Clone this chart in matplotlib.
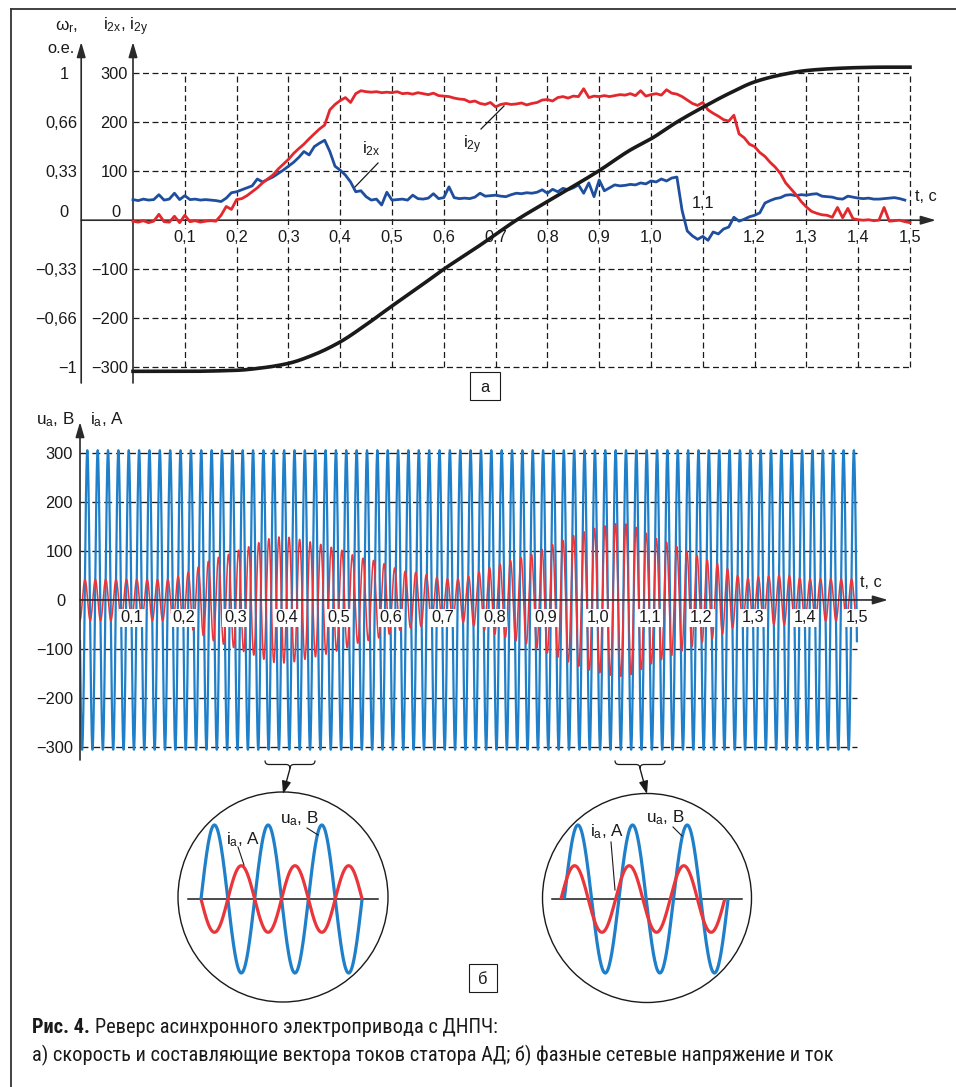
import numpy as np
import matplotlib
matplotlib.use("Agg")
import matplotlib.pyplot as plt
from matplotlib.patches import Circle, Rectangle, PathPatch
from matplotlib.path import Path
from matplotlib import font_manager

# ======================= DATA =======================
# (a) stator current vector components, sampled every 0.01 s from t = 0
t_step = 0.01
i2x = [42, 40, 43, 41, 42, 52, 41, 43, 55, 42,
       50, 42, 43, 41, 42, 41, 40, 38, 45, 56,
       58, 62, 66, 70, 84, 78, 83, 88, 95, 102,
       110, 118, 128, 140, 133, 150, 157, 163, 140, 110,
       102, 92, 78, 58, 60, 48, 41, 43, 31, 57,
       41, 42, 43, 41, 51, 44, 43, 45, 54, 44,
       46, 68, 46, 44, 45, 44, 47, 55, 49, 50,
       51, 49, 48, 52, 55, 54, 56, 55, 57, 62,
       55, 63, 58, 65, 62, 66, 72, 55, 76, 48,
       82, 60, 66, 72, 70, 71, 73, 72, 76, 74,
       80, 78, 84, 80, 86, 88, 20, -22, -32, -39,
       -33, -41, -24, -28, -18, -14, 6, -2, 2, 7,
       10, 15, 35, 40, 44, 46, 51, 52, 50, 52,
       51, 53, 54, 49, 48, 47, 44, 43, 49, 47,
       45, 44, 45, 43, 43, 44, 45, 46, 44, 41]
i2y = [-2, -4, -1, -5, -2, 12, -3, -4, 8, -5,
       10, -3, -1, -4, -2, -1, -2, 10, 28, 22,
       42, 44, 50, 58, 66, 76, 84, 92, 104, 114,
       124, 136, 146, 155, 166, 176, 186, 194, 225, 236,
       244, 250, 240, 258, 264, 262, 261, 262, 260, 261,
       260, 262, 258, 259, 257, 260, 258, 256, 259, 254,
       253, 252, 249, 247, 246, 241, 243, 238, 236, 240,
       231, 236, 238, 236, 237, 239, 235, 238, 240, 245,
       246, 243, 250, 252, 249, 253, 252, 268, 250, 253,
       252, 254, 252, 254, 256, 255, 258, 254, 264, 253,
       256, 258, 255, 266, 259, 257, 252, 245, 238, 234,
       240, 225, 218, 212, 205, 202, 214, 176, 168, 155,
       150, 138, 130, 118, 108, 95, 76, 64, 52, 38,
       27, 18, 14, 11, 10, 6, 26, 5, 24, 3,
       1, 0, 1, -1, 0, 26, -2, -1, 0, -3, -5]
# rotor speed, o.e.
t_omega = [0.0, 0.1, 0.2, 0.25, 0.3, 0.35, 0.4, 0.45, 0.5, 0.55, 0.6, 0.67, 0.74,
           0.8, 0.9, 0.96, 1.0, 1.05, 1.1, 1.15, 1.2, 1.25, 1.3, 1.35, 1.4, 1.45, 1.5]
omega = [-1.027, -1.027, -1.02, -1.003, -0.973, -0.913, -0.827, -0.71, -0.583,
         -0.46, -0.333, -0.17, 0.0, 0.127, 0.337, 0.477, 0.553, 0.667, 0.767,
         0.86, 0.94, 0.987, 1.017, 1.03, 1.037, 1.04, 1.04]

i_ticks = [-300, -200, -100, 0, 100, 200, 300]
i_tick_labels = ['−300', '−200', '−100', '0', '100', '200', '300']
w_tick_labels = ['−1', '−0,66', '−0,33', '0', '0,33', '0,66', '1']
t_ticks = [0.1, 0.2, 0.3, 0.4, 0.5, 0.6, 0.7, 0.8, 0.9, 1.0, 1.1, 1.2, 1.3, 1.4, 1.5]
t_tick_labels = ['0,1', '0,2', '0,3', '0,4', '0,5', '0,6', '0,7', '0,8', '0,9',
                 '1,0', '1,1', '1,2', '1,3', '1,4', '1,5']

# (b) phase voltage and current
f_net = 50.0            # Hz
u_amp = 305.0           # V
u_phase_deg = -164.0
cycle_amp_i = [42, 42, 42, 42, 42, 42, 42, 42, 42, 48,
               57, 68, 80, 88, 94, 103, 110, 119, 127, 129,
               127, 122, 117, 112, 106, 100, 90, 84, 80, 73,
               64, 58, 56, 51, 46, 43, 43, 48, 57, 66,
               73, 80, 86, 92, 102, 112, 120, 130, 138, 145,
               150, 155, 156, 150, 138, 126, 119, 110, 100, 91,
               82, 75, 64, 50, 44, 47, 49, 51, 50, 45,
               43, 43, 43, 43, 43]
i_phase_t = [0.0, 0.18, 0.40, 0.72, 1.05, 1.28, 1.50]
i_phase_lead_deg = [80, 80, 190, 80, 0, 80, 80]
# magnified insets (relative units)
inset_u_amp = 1.0
inset_i_amp = 0.45
inset_i_phase_deg = [180.0, 22.0]

caption_1b = 'Рис. 4.'
caption_1 = 'Реверс асинхронного электропривода с ДНПЧ:'
caption_2 = 'а) скорость и составляющие вектора токов статора АД; б) фазные сетевые напряжение и ток'

# ======================= STYLE =======================
plt.rcParams['font.family'] = ['Liberation Sans', 'DejaVu Sans']
plt.rcParams['mathtext.fontset'] = 'custom'
plt.rcParams['mathtext.rm'] = 'Liberation Sans'
plt.rcParams['mathtext.it'] = 'Liberation Sans'
plt.rcParams['mathtext.bf'] = 'Liberation Sans:bold'

RED = '#e3282d'
BLUE_D = '#1f4e9e'
BLUE_L = '#1f80c9'
RED_L = '#ea363b'
BLK = '#1a1a1a'
AXC = '#2a2a2a'
FS = 11.8

# pick a narrow font for the caption if one is installed
_avail = {f.name for f in font_manager.fontManager.ttflist}
_narrow = [n for n in ['Roboto Condensed', 'Liberation Sans Narrow', 'DejaVu Sans Condensed',
                       'Open Sans Condensed', 'Noto Sans Display', 'Roboto'] if n in _avail]
CAPF = (_narrow[:1] or ['Liberation Sans']) + ['DejaVu Sans']

W, H = 956, 1087
fig = plt.figure(figsize=(W / 100, H / 100), dpi=100)


def rect(x0, y0, x1, y1):
    return [x0 / W, 1 - y1 / H, (x1 - x0) / W, (y1 - y0) / H]


def pchip(x, y, xn):
    x = np.asarray(x, float)
    y = np.asarray(y, float)
    h = np.diff(x)
    d = np.diff(y) / h
    m = np.zeros_like(y)
    for k in range(1, len(x) - 1):
        if d[k - 1] * d[k] > 0:
            w1 = 2 * h[k] + h[k - 1]
            w2 = h[k] + 2 * h[k - 1]
            m[k] = (w1 + w2) / (w1 / d[k - 1] + w2 / d[k])
    m[0] = d[0]
    m[-1] = d[-1]
    idx = np.clip(np.searchsorted(x, xn) - 1, 0, len(h) - 1)
    s = (xn - x[idx]) / h[idx]
    h00 = 2 * s**3 - 3 * s**2 + 1
    h10 = s**3 - 2 * s**2 + s
    h01 = -2 * s**3 + 3 * s**2
    h11 = s**3 - s**2
    return h00 * y[idx] + h10 * h[idx] * m[idx] + h01 * y[idx + 1] + h11 * h[idx] * m[idx + 1]


arrow_kw = dict(arrowstyle='-|>,head_length=0.75,head_width=0.22', color=AXC, lw=1.2,
                shrinkA=0, shrinkB=0, mutation_scale=12)
dash_top = (0, (4.8, 2.8))
dash_bot = (0, (6.0, 3.0))

# ======================= (a) =======================
ax = fig.add_axes(rect(81.2, 42, 935.9, 383))
ax.set_xlim(-0.1, 1.55)
ax.set_ylim(-331.9, 363.3)
ax.axis('off')

for v in i_ticks:
    if v != 0:
        ax.plot([0, t_ticks[-1]], [v, v], color=BLK, lw=0.9, ls=dash_top, zorder=1)
for tt in t_ticks:
    ax.plot([tt, tt], [i_ticks[0], i_ticks[-1]], color=BLK, lw=0.9, ls=dash_top, zorder=1)

ax.annotate('', xy=(0, 1), xytext=(0, 0), xycoords=ax.get_xaxis_transform(),
            arrowprops=arrow_kw, annotation_clip=False)
ax.annotate('', xy=(-0.1, 1), xytext=(-0.1, 0), xycoords=ax.get_xaxis_transform(),
            arrowprops=arrow_kw, annotation_clip=False)
ax.annotate('', xy=(1.55, 0), xytext=(-0.1, 0), xycoords='data',
            arrowprops=arrow_kw, annotation_clip=False)

t_x = np.arange(len(i2x)) * t_step
t_y = np.arange(len(i2y)) * t_step
ax.plot(t_x, i2x, color=BLUE_D, lw=2.0, zorder=3, solid_joinstyle='round')
ax.plot(t_y, i2y, color=RED, lw=2.0, zorder=4, solid_joinstyle='round')

axw = ax.twinx()
axw.set_xlim(ax.get_xlim())
axw.set_ylim(ax.get_ylim()[0] / 300.0, ax.get_ylim()[1] / 300.0)
axw.axis('off')
tw = np.linspace(t_omega[0], t_omega[-1], 600)
axw.plot(tw, pchip(t_omega, omega, tw), color=BLK, lw=2.6, zorder=5)

for v, lab, wl in zip(i_ticks, i_tick_labels, w_tick_labels):
    if v == 0:
        ax.annotate(lab, (0, v), xytext=(-17, 3), textcoords='offset pixels',
                    ha='center', va='baseline', fontsize=FS, color=BLK)
        ax.annotate(wl, (-0.1, v), xytext=(-17.5, 3), textcoords='offset pixels',
                    ha='center', va='baseline', fontsize=FS, color=BLK)
    else:
        ax.annotate(lab, (0, v), xytext=(-5, -6), textcoords='offset pixels',
                    ha='right', va='baseline', fontsize=FS, color=BLK)
        if wl == '1':
            ax.annotate(wl, (-0.1, v), xytext=(-17, -6), textcoords='offset pixels',
                        ha='center', va='baseline', fontsize=FS, color=BLK)
        else:
            ax.annotate(wl, (-0.1, v), xytext=(-4, -6), textcoords='offset pixels',
                        ha='right', va='baseline', fontsize=FS, color=BLK)

for tt, lab in zip(t_ticks, t_tick_labels):
    dy = 12 if lab == '1,1' else -22
    ax.annotate(lab, (tt, 0), xytext=(0, dy), textcoords='offset pixels',
                ha='center', va='baseline', fontsize=FS, color=BLK, zorder=6,
                bbox=dict(fc='white', ec='none', pad=1.0))

ax.annotate('t, c', (1.5, 0), xytext=(5, 19), textcoords='offset pixels',
            ha='left', va='baseline', fontsize=FS, color=BLK)

# ======================= (b) =======================
bx = fig.add_axes(rect(80, 422, 888, 760))
bx.set_xlim(0, 1.56)
bx.set_ylim(-326.0, 362.5)
bx.axis('off')

for v in i_ticks:
    if v != 0:
        bx.plot([0, t_ticks[-1]], [v, v], color=BLK, lw=0.95, ls=dash_bot, zorder=1)

tf = np.linspace(0, t_ticks[-1], 15001)
u = u_amp * np.sin(2 * np.pi * f_net * tf + np.deg2rad(u_phase_deg))
bx.plot(tf, u, color=BLUE_L, lw=1.6, zorder=2)

cyc_t = (np.arange(len(cycle_amp_i)) + 0.5) / f_net
env = np.interp(tf, cyc_t, cycle_amp_i)
lead = np.deg2rad(np.interp(tf, i_phase_t, i_phase_lead_deg))
ia = env * np.sin(2 * np.pi * f_net * tf + np.deg2rad(u_phase_deg) + lead)
bx.plot(tf, ia, color=RED_L, lw=1.1, zorder=3)

bx.annotate('', xy=(0, 1), xytext=(0, 0), xycoords=bx.get_xaxis_transform(),
            arrowprops=arrow_kw, annotation_clip=False)
bx.annotate('', xy=(1.56, 0), xytext=(0, 0), xycoords='data',
            arrowprops=arrow_kw, annotation_clip=False)

for v, lab in zip(i_ticks, i_tick_labels):
    if v == 0:
        bx.annotate(lab, (0, v), xytext=(-19.5, -6), textcoords='offset pixels',
                    ha='center', va='baseline', fontsize=FS, color=BLK)
    else:
        bx.annotate(lab, (0, v), xytext=(-7, -6), textcoords='offset pixels',
                    ha='right', va='baseline', fontsize=FS, color=BLK)
for tt, lab in zip(t_ticks, t_tick_labels):
    bx.annotate(lab, (tt, 0), xytext=(0, -22.5), textcoords='offset pixels',
                ha='center', va='baseline', fontsize=FS, color=BLK, zorder=6,
                bbox=dict(fc='white', ec='none', pad=1.2))
bx.annotate('t, c', (1.5, 0), xytext=(3, 13), textcoords='offset pixels',
            ha='left', va='baseline', fontsize=FS, color=BLK)

# ======================= overlay (pixel coords) =======================
ov = fig.add_axes([0, 0, 1, 1])
ov.set_xlim(0, W)
ov.set_ylim(H, 0)
ov.axis('off')
ov.patch.set_alpha(0)

ov.plot([11, W], [9, 9], color='#333333', lw=1.3)
ov.plot([11, 11], [9, H], color='#333333', lw=1.3)

ov.text(55, 30, r'$\mathregular{ω_r}$,', fontsize=FS + 0.5, ha='left', va='baseline', color=BLK)
ov.text(47, 53, 'о.е.', fontsize=FS, ha='left', va='baseline', color=BLK)
ov.text(103, 30, r'$\mathregular{i_{2x}}$, $\mathregular{i_{2y}}$', fontsize=FS + 0.5,
        ha='left', va='baseline', color=BLK)
ov.text(36, 424, r'$\mathregular{u_a}$, B', fontsize=FS + 0.5, ha='left', va='baseline', color=BLK)
ov.text(90, 424, r'$\mathregular{i_a}$, A', fontsize=FS + 0.5, ha='left', va='baseline', color=BLK)

ov.text(362, 153, r'$\mathregular{i_{2x}}$', fontsize=FS + 0.5, ha='left', va='baseline', color=BLK)
ov.plot([378, 355], [163, 187], color=BLK, lw=0.9)
ov.text(463, 148, r'$\mathregular{i_{2y}}$', fontsize=FS + 0.5, ha='left', va='baseline', color=BLK)
ov.plot([481, 504], [129, 106], color=BLK, lw=0.9)

for (x0, y0, x1, y1, lab) in [(470, 372, 500, 400, 'а'), (469, 964, 497, 992, 'б')]:
    ov.add_patch(Rectangle((x0, y0), x1 - x0, y1 - y0, fill=False, ec=BLK, lw=0.8))
    ov.text((x0 + x1) / 2, (y0 + y1) / 2 + 1, lab, fontsize=FS, ha='center', va='center', color=BLK)


def brace(xl, xr, ytop, h):
    xc = (xl + xr) / 2
    verts = [(xl, ytop), (xl, ytop + h), (xl + 4, ytop + h),
             (xc - 4, ytop + h),
             (xc, ytop + h), (xc, ytop + 2 * h),
             (xc, ytop + h), (xc + 4, ytop + h),
             (xr - 4, ytop + h),
             (xr, ytop + h), (xr, ytop)]
    codes = [Path.MOVETO, Path.CURVE3, Path.CURVE3, Path.LINETO,
             Path.CURVE3, Path.CURVE3, Path.CURVE3, Path.CURVE3,
             Path.LINETO, Path.CURVE3, Path.CURVE3]
    ov.add_patch(PathPatch(Path(verts, codes), fill=False, ec=BLK, lw=0.9))
    return xc, ytop + 2 * h


insets = [
    dict(cx=283, cy=897, r=105, zl=188, zr=378, ub=201, per=53.7,
         br=(265, 315), tip=(283, 794),
         il=(226, 844), ll_i=((238, 847), (244, 865)),
         ul=(280, 823), ll_u=((307, 828), (318, 835))),
    dict(cx=647, cy=898, r=104.5, zl=552, zr=742, ub=564.3, per=54.6,
         br=(615, 665), tip=(647, 794),
         il=(590, 836), ll_i=((611, 842), (615, 890)),
         ul=(646, 822.7), ll_u=((673, 827), (682, 836))),
]
amp_px = 74.0
for k, d in enumerate(insets):
    ov.add_patch(Circle((d['cx'], d['cy']), d['r'], fill=False, ec=BLK, lw=1.0))
    ov.plot([d['zl'], d['zr']], [899, 899], color=BLK, lw=1.1)
    c = np.linspace(0, 3, 400)
    xu = d['ub'] + d['per'] * c
    ov.plot(xu, 899 - amp_px * inset_u_amp * np.sin(2 * np.pi * c), color=BLUE_L, lw=2.3,
            solid_capstyle='butt')
    phi = inset_i_phase_deg[k]
    n180 = round(phi / 180.0)
    sign = -1.0 if n180 % 2 else 1.0
    shift = d['per'] * (phi - 180.0 * n180) / 360.0
    xi = d['ub'] - shift + d['per'] * c
    yi = 899 - amp_px * inset_i_amp * sign * np.sin(2 * np.pi * c)
    ov.plot(xi, yi, color=RED_L, lw=2.3, solid_capstyle='butt')
    xc, yb = brace(d['br'][0], d['br'][1], 760.5, 4.0)
    ov.annotate('', xy=d['tip'], xytext=(xc, yb), xycoords='data',
                arrowprops=dict(arrowstyle='-|>,head_length=0.7,head_width=0.25', color=BLK,
                                lw=1.0, shrinkA=0, shrinkB=0, mutation_scale=11))
    ov.text(d['il'][0], d['il'][1], r'$\mathregular{i_a}$, A', fontsize=FS + 0.5, ha='left',
            va='baseline', color=BLK)
    ov.text(d['ul'][0], d['ul'][1], r'$\mathregular{u_a}$, B', fontsize=FS + 0.5, ha='left',
            va='baseline', color=BLK)
    (a1, a2) = d['ll_i']
    ov.plot([a1[0], a2[0]], [a1[1], a2[1]], color=BLK, lw=0.8)
    (b1, b2) = d['ll_u']
    ov.plot([b1[0], b2[0]], [b1[1], b2[1]], color=BLK, lw=0.8)

# caption, fitted to the reference width of the second line
cap2 = ov.text(32, 1061, caption_2, fontsize=14, family=CAPF, ha='left', va='baseline', color=BLK)
rend = fig.canvas.get_renderer()
w2 = cap2.get_window_extent(rend).width
cfs = 14.0 * 804.0 / w2
cap2.set_fontsize(cfs)
bold = ov.text(32, 1033, caption_1b, fontsize=cfs, fontweight='bold', family=CAPF,
               ha='left', va='baseline', color=BLK)
ov.annotate(caption_1, xy=(1, 0), xycoords=bold,
            xytext=(5, 0), textcoords='offset pixels', fontsize=cfs, family=CAPF,
            ha='left', va='bottom', color=BLK)

fig.savefig('out.png', dpi=100, facecolor='white')
